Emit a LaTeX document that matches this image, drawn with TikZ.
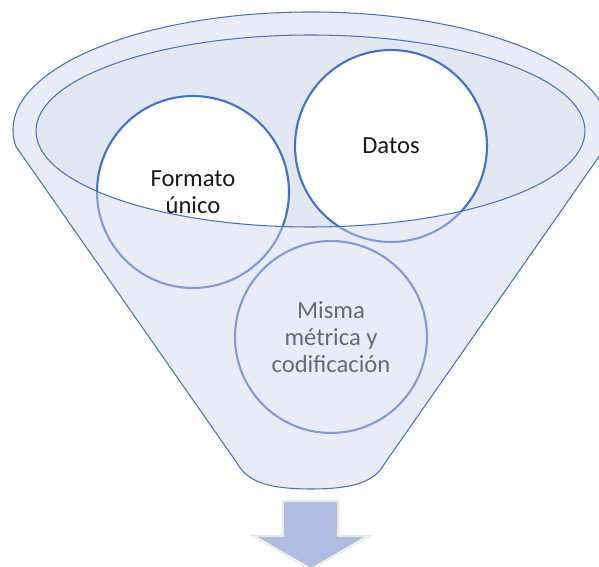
\documentclass[tikz,border=0pt]{standalone}
\usepackage{fontspec}
\setmainfont{Carlito}
\usetikzlibrary{calc}
\definecolor{funnelblue}{HTML}{4472C4}
\definecolor{rimfill}{HTML}{E3E7F3}
\definecolor{veil}{RGB}{205,211,237}
\definecolor{arrowfill}{HTML}{AFBDE1}
\def\funnel{(15.9,146.4) arc[start angle=172, end angle=368, x radius=298, y radius=118] -- (385,463) .. controls (376,479) and (360,489) .. (311,489) .. controls (262,489) and (246,479) .. (237,463) -- cycle}
\tikzset{
	bubble/.style={circle, draw=funnelblue, line width=1.2pt, fill=white, minimum size=3.84cm, inner sep=0pt, align=center, text=black!90, font=\fontsize{14}{15.5}\selectfont},
	rim/.style={draw=funnelblue, line width=0.6pt}
}

\begin{document}
\begin{tikzpicture}[x=0.02cm, y=-0.02cm]
			%%%%% START %%%%%
			\useasboundingbox (0,0) rectangle (599,567);
			
			\fill[rimfill] (310.5,131) ellipse[x radius=274.5, y radius=96];
			
			\node[bubble] (formato) at (193,192) {Formato\\único};
			\node[bubble] (datos) at (391,146) {Datos};
			\node[bubble] (misma) at (331,337) {Misma\\métrica y\\codificación};
			
			\fill[veil, fill opacity=0.435, even odd rule] \funnel (310.5,131) ellipse[x radius=274.5, y radius=96];
			\draw[rim] \funnel;
			\draw[rim] (310.5,131) ellipse[x radius=274.5, y radius=96];
			
			\filldraw[draw=black!15, double=white, double distance=0.5pt, fill=arrowfill] (283,501) -- (338,501) -- (338,536) -- (368,536) -- (311,569) -- (254,536) -- (283,536) -- cycle;
			%%%%% END %%%%%
\end{tikzpicture}
\end{document}
